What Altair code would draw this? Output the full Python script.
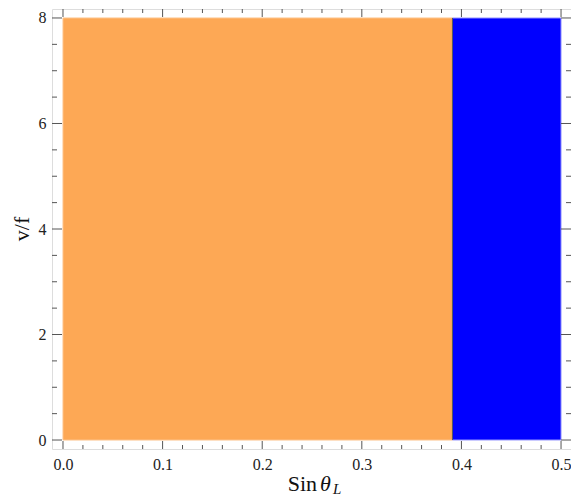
import altair as alt
import pandas as pd

# ---- data ----
region_x0 = [0.0, 0.391]
region_x1 = [0.391, 0.5]
region_y0 = [0.0, 0.0]
region_y1 = [8.0, 8.0]
region_color = ["#FDA855", "#0000FF"]
region_stroke = ["#FDC48C", "#9A9AFF"]

boundary_x = [0.391]

x_major = [0.0, 0.1, 0.2, 0.3, 0.4, 0.5]
x_minor = [0.02, 0.04, 0.06, 0.08, 0.12, 0.14, 0.16, 0.18, 0.22, 0.24, 0.26, 0.28,
           0.32, 0.34, 0.36, 0.38, 0.42, 0.44, 0.46, 0.48]
y_major = [0, 2, 4, 6, 8]
y_minor = [0.5, 1, 1.5, 2.5, 3, 3.5, 4.5, 5, 5.5, 6.5, 7, 7.5]

X_DOMAIN = [-0.01104, 0.5100]
Y_DOMAIN = [-0.170, 8.170]

W = 519
H = 440
FONT = "Liberation Serif"
TICK_COLOR = "#555555"

regions = pd.DataFrame({"x0": region_x0, "x1": region_x1, "y0": region_y0,
                        "y1": region_y1, "c": region_color, "s": region_stroke})

xs = alt.Scale(domain=X_DOMAIN, nice=False, zero=False)
ys = alt.Scale(domain=Y_DOMAIN, nice=False, zero=False)
xaxis = alt.Axis(values=x_major, format=".1f", ticks=False, domain=False, grid=False,
                 labelFont=FONT, labelFontSize=16, labelColor="#222222", labelPadding=7,
                 title=None)
yaxis = alt.Axis(values=y_major, format="d", ticks=False, domain=False, grid=False,
                 labelFont=FONT, labelFontSize=16, labelColor="#222222", labelPadding=6,
                 title=None)

def X(field):
    return alt.X(field, scale=xs, axis=xaxis, title=None)

def Y(field):
    return alt.Y(field, scale=ys, axis=yaxis, title=None)

rects = alt.Chart(regions).mark_rect(strokeWidth=1).encode(
    x=X("x0:Q"), x2="x1:Q",
    y=Y("y0:Q"), y2="y1:Q",
    color=alt.Color("c:N", scale=None),
    stroke=alt.Stroke("s:N", scale=None),
)

boundary = alt.Chart(pd.DataFrame({"bx": boundary_x, "by0": [0.0], "by1": [8.0]})).mark_rule(
    color="#555555", strokeWidth=1).encode(
    x=X("bx:Q"), y=Y("by0:Q"), y2="by1:Q",
)

def xticks(vals, length):
    d = pd.DataFrame({"v": vals})
    bottom = alt.Chart(d).mark_rule(color=TICK_COLOR, strokeWidth=1).encode(
        x=X("v:Q"), y=alt.value(H), y2=alt.value(H - length))
    top = alt.Chart(d).mark_rule(color=TICK_COLOR, strokeWidth=1).encode(
        x=X("v:Q"), y=alt.value(0), y2=alt.value(length))
    return [bottom, top]

def yticks(vals, length):
    d = pd.DataFrame({"w": vals})
    left = alt.Chart(d).mark_rule(color=TICK_COLOR, strokeWidth=1).encode(
        y=Y("w:Q"), x=alt.value(0), x2=alt.value(length))
    right = alt.Chart(d).mark_rule(color=TICK_COLOR, strokeWidth=1).encode(
        y=Y("w:Q"), x=alt.value(W), x2=alt.value(W - length))
    return [left, right]

one = alt.Data(values=[{}])
xtitle_a = alt.Chart(one).mark_text(font=FONT, fontSize=22, align="right", baseline="alphabetic",
                                    color="#111111").encode(
    x=alt.value(265), y=alt.value(482), text=alt.value("Sin"))
xtitle_b = alt.Chart(one).mark_text(font=FONT, fontSize=22, fontStyle="italic", align="left",
                                    baseline="alphabetic", color="#111111").encode(
    x=alt.value(268), y=alt.value(482), text=alt.value("θ"))
xsub = alt.Chart(one).mark_text(font=FONT, fontSize=15, fontStyle="italic", align="left",
                                baseline="alphabetic", color="#111111").encode(
    x=alt.value(281), y=alt.value(485), text=alt.value("L"))
ytitle = alt.Chart(one).mark_text(font=FONT, fontSize=22, align="center", baseline="middle",
                                  angle=270, color="#111111").encode(
    x=alt.value(-30), y=alt.value(220), text=alt.value("v/f"))

layers = [rects, boundary] + xticks(x_major, 8) + xticks(x_minor, 4) \
    + yticks(y_major, 10) + yticks(y_minor, 5) + [xtitle_a, xtitle_b, xsub, ytitle]

chart = alt.layer(*layers).properties(
    width=W, height=H,
    autosize=alt.AutoSizeParams(type="none"),
    padding={"left": 44, "top": 1, "right": 0, "bottom": 47},
).configure_view(stroke="#333333", strokeWidth=1).configure(background="white")

chart.save("out.html", embed_options={"renderer": "svg", "actions": False})
